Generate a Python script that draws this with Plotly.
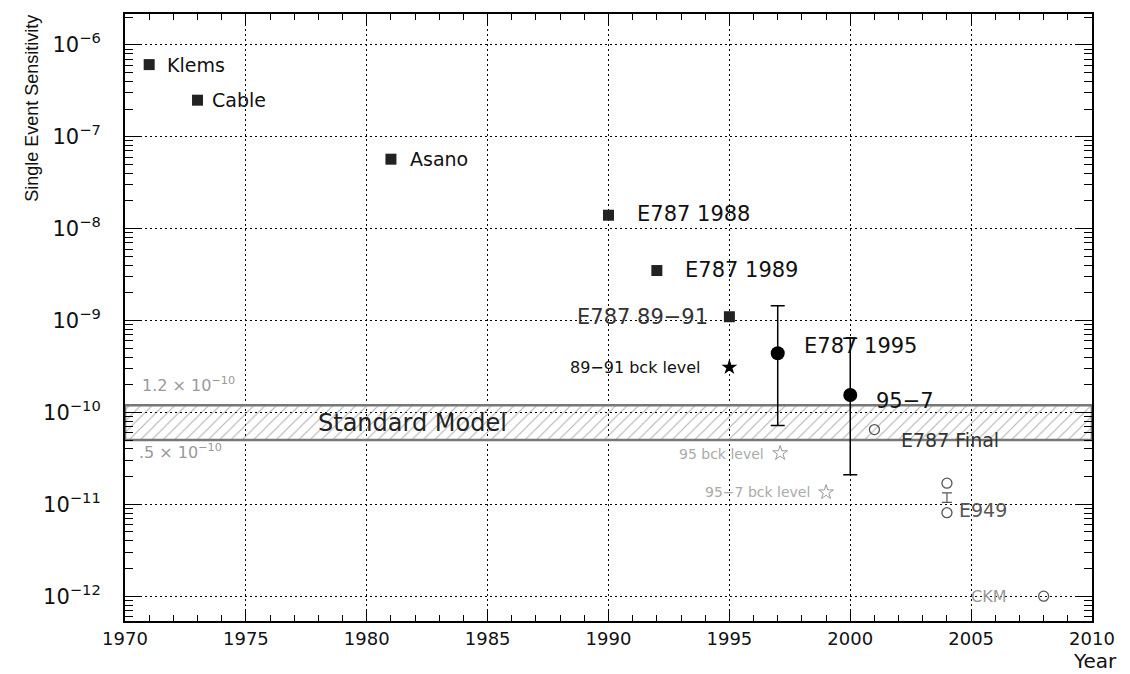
import plotly.graph_objects as go

# ---- data ----
sq_names = ["Klems", "Cable", "Asano", "E787 1988", "E787 1989", "E787 89−91"]
sq_years = [1971, 1973, 1981, 1990, 1992, 1995]
sq_vals = [6.1e-7, 2.5e-7, 5.7e-8, 1.4e-8, 3.5e-9, 1.1e-9]

meas_names = ["E787 1995", "95−7"]
meas_years = [1997, 2000]
meas_vals = [4.4e-10, 1.55e-10]
meas_hi = [1.45e-9, 6.4e-10]
meas_lo = [7.2e-11, 2.1e-11]

bck_years = [1995]
bck_vals = [3.1e-10]
bck_open_names = ["95 bck level", "95−7 bck level"]
bck_open_years = [1997.1, 1999]
bck_open_vals = [3.6e-11, 1.35e-11]

open_names = ["E787 Final", "E949", "E949", "CKM"]
open_years = [2001, 2004, 2004, 2008]
open_vals = [6.5e-11, 1.7e-11, 8.1e-12, 1.0e-12]

e949_year = [2004]
e949_mid = [1.18e-11]
e949_hi = [1.33e-11]
e949_lo = [1.05e-11]

sm_lo, sm_hi = 0.5e-10, 1.2e-10
x_range = [1970, 2010]
y_exponents = [-12, -11, -10, -9, -8, -7, -6]
y_tickvals = [10.0 ** e for e in y_exponents]
y_ticktext = ["10<sup>−%d</sup>" % (-e) for e in y_exponents]
minor_y = [m * 10.0 ** d for d in [-13] + y_exponents for m in range(2, 10)]

FONT = "DejaVu Sans"

fig = go.Figure()

# Standard model band (hatched)
fig.add_trace(go.Scatter(
    x=[x_range[0], x_range[1], x_range[1], x_range[0], x_range[0]],
    y=[sm_lo, sm_lo, sm_hi, sm_hi, sm_lo],
    mode="lines", fill="toself",
    fillcolor="rgba(255,255,255,0)",
    fillpattern=dict(shape="/", fgcolor="#666", bgcolor="rgba(255,255,255,0)", size=8, solidity=0.14),
    line=dict(color="#777", width=2.5),
    hoverinfo="skip", showlegend=False))

# squares
fig.add_trace(go.Scatter(
    x=sq_years, y=sq_vals, mode="markers",
    marker=dict(symbol="square", size=11, color="#222"),
    text=sq_names, showlegend=False))

# measurements with error bars
fig.add_trace(go.Scatter(
    x=meas_years, y=meas_vals, mode="markers",
    marker=dict(symbol="circle", size=14, color="black"),
    error_y=dict(type="data", symmetric=False,
                 array=[h - v for h, v in zip(meas_hi, meas_vals)],
                 arrayminus=[v - l for v, l in zip(meas_vals, meas_lo)],
                 color="black", thickness=1.5, width=7),
    text=meas_names, showlegend=False))

# E949 small error bar
fig.add_trace(go.Scatter(
    x=e949_year, y=e949_mid, mode="markers",
    marker=dict(size=1, color="rgba(0,0,0,0)"),
    error_y=dict(type="data", symmetric=False,
                 array=[h - v for h, v in zip(e949_hi, e949_mid)],
                 arrayminus=[v - l for v, l in zip(e949_mid, e949_lo)],
                 color="#555", thickness=1.2, width=5),
    showlegend=False, hoverinfo="skip"))

# stars
fig.add_trace(go.Scatter(
    x=bck_years, y=bck_vals, mode="markers",
    marker=dict(symbol="star", size=12, color="black"), showlegend=False))
fig.add_trace(go.Scatter(
    x=bck_open_years, y=bck_open_vals, mode="markers",
    marker=dict(symbol="star-open", size=11, color="#999", line=dict(width=1)),
    text=bck_open_names, showlegend=False))

# open circles
fig.add_trace(go.Scatter(
    x=open_years, y=open_vals, mode="markers",
    marker=dict(symbol="circle-open", size=10, color="#555", line=dict(width=1.3)),
    text=open_names, showlegend=False))

# ---- labels ----
def lab(x, ly, text, size=18, color="#111", anchor="left"):
    fig.add_annotation(x=x, y=ly, text=text, showarrow=False, xanchor=anchor,
                       yanchor="middle", font=dict(family=FONT, size=size, color=color))

lab(1971.65, -6.217, "Klems", size=19)
lab(1973.5, -6.597, "Cable", size=19)
lab(1981.7, -7.237, "Asano", size=19)
lab(1991.1, -7.845, "E787 1988", size=21)
lab(1993.1, -8.453, "E787 1989", size=21)
lab(1994.2, -8.963, "E787 89−91", size=21, color="#333", anchor="right")
lab(1993.9, -9.506, "89−91 bck level", size=16, anchor="right")
lab(1998.0, -9.277, "E787 1995", size=21)
lab(2001.0, -9.874, "95−7", size=21)
lab(2002.0, -10.297, "E787 Final", size=19, color="#333")
lab(2004.4, -11.06, "E949", size=19, color="#555")
lab(2004.9, -12.0, "CKM", size=16, color="#999")
lab(1977.9, -10.12, "Standard Model", size=24, color="#222")
lab(1970.6, -9.70, "1.2 × 10<sup>−10</sup>", size=16, color="#999")
lab(1970.5, -10.42, ".5 × 10<sup>−10</sup>", size=16, color="#999")
lab(1996.5, -10.45, "95 bck level", size=14, color="#aaa", anchor="right")
lab(1998.4, -10.87, "95−7 bck level", size=14, color="#aaa", anchor="right")

fig.add_annotation(xref="paper", yref="paper", x=-0.0965, y=0.845, text="Single Event Sensitivity",
                   textangle=-90, showarrow=False, xanchor="center", yanchor="middle",
                   font=dict(family="Liberation Sans Narrow, Liberation Sans", size=18, color="#111"))
fig.add_annotation(xref="paper", yref="paper", x=1.003, y=-0.066, text="Year",
                   showarrow=False, xanchor="center", yanchor="middle",
                   font=dict(family=FONT, size=20, color="#111"))

fig.update_xaxes(range=x_range, dtick=5, tick0=1970, showgrid=True, gridcolor="black",
                 griddash="2px,3px", gridwidth=1.2, ticks="inside", ticklen=10, tickcolor="black",
                 showline=True, linecolor="black", linewidth=2, mirror="allticks",
                 minor=dict(dtick=1, ticks="inside", ticklen=6, tickcolor="black", showgrid=False),
                 tickfont=dict(family=FONT, size=18, color="#111"), zeroline=False)
fig.update_yaxes(type="log", range=[-12.27, -5.664], tickmode="array",
                 tickvals=y_tickvals, ticktext=y_ticktext, ticklabelstandoff=18,
                 showgrid=True, gridcolor="black", griddash="2px,3px", gridwidth=1.2,
                 ticks="inside", ticklen=16, tickcolor="black",
                 showline=True, linecolor="black", linewidth=2, mirror="allticks",
                 minor=dict(tickmode="array", tickvals=minor_y, ticks="inside", ticklen=8,
                            tickcolor="black", showgrid=False),
                 tickfont=dict(family=FONT, size=21, color="#111"), zeroline=False)

fig.update_layout(width=1122, height=666, plot_bgcolor="white", paper_bgcolor="white",
                  margin=dict(l=117, r=38, t=4, b=53), showlegend=False)

fig.write_html("out.html")
